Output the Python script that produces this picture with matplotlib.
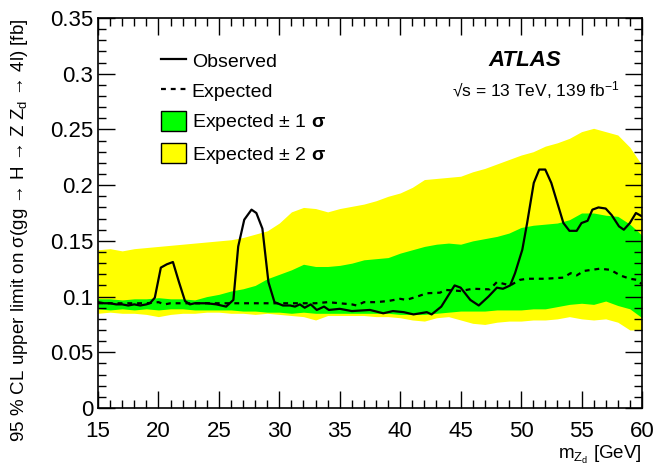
import matplotlib
matplotlib.use('Agg')
import matplotlib.pyplot as plt
from matplotlib.lines import Line2D
from matplotlib.patches import Patch
from matplotlib.ticker import MultipleLocator

plt.rcParams['font.family'] = ['Liberation Sans', 'DejaVu Sans']
plt.rcParams['mathtext.fontset'] = 'custom'
plt.rcParams['mathtext.rm'] = 'Liberation Sans'
plt.rcParams['mathtext.it'] = 'Liberation Sans:italic'
plt.rcParams['mathtext.bf'] = 'Liberation Sans:bold'

# Bandas de +-1 y +-2 sigma (rejilla de 1 GeV)
band_x = list(range(15, 61))
upper2 = [0.142, 0.143, 0.141, 0.143, 0.144, 0.145, 0.146, 0.147, 0.148, 0.149,
          0.150, 0.151, 0.153, 0.156, 0.159, 0.166, 0.176, 0.180, 0.179, 0.176,
          0.179, 0.181, 0.183, 0.186, 0.190, 0.193, 0.198, 0.205, 0.206, 0.207,
          0.208, 0.212, 0.215, 0.219, 0.223, 0.227, 0.230, 0.235, 0.238, 0.242,
          0.248, 0.251, 0.248, 0.245, 0.234, 0.218]
upper1 = [0.098, 0.098, 0.097, 0.098, 0.098, 0.099, 0.098, 0.098, 0.097, 0.100,
          0.102, 0.105, 0.107, 0.110, 0.116, 0.120, 0.124, 0.129, 0.127, 0.127,
          0.128, 0.130, 0.133, 0.134, 0.135, 0.139, 0.142, 0.145, 0.147, 0.148,
          0.147, 0.150, 0.152, 0.154, 0.157, 0.162, 0.164, 0.165, 0.166, 0.169,
          0.175, 0.175, 0.173, 0.172, 0.165, 0.155]
lower1 = [0.089, 0.088, 0.089, 0.088, 0.089, 0.088, 0.089, 0.089, 0.088, 0.088,
          0.088, 0.088, 0.087, 0.087, 0.086, 0.086, 0.085, 0.086, 0.085, 0.085,
          0.085, 0.085, 0.085, 0.085, 0.085, 0.084, 0.084, 0.084, 0.085, 0.086,
          0.087, 0.087, 0.087, 0.088, 0.088, 0.088, 0.089, 0.089, 0.091, 0.093,
          0.094, 0.093, 0.096, 0.092, 0.089, 0.081]
lower2 = [0.085, 0.086, 0.085, 0.085, 0.084, 0.082, 0.084, 0.085, 0.085, 0.086,
          0.086, 0.085, 0.085, 0.084, 0.085, 0.084, 0.083, 0.082, 0.079, 0.083,
          0.083, 0.083, 0.083, 0.082, 0.082, 0.081, 0.079, 0.078, 0.081, 0.082,
          0.079, 0.076, 0.075, 0.077, 0.078, 0.078, 0.079, 0.079, 0.080, 0.082,
          0.080, 0.079, 0.080, 0.077, 0.070, 0.070]

# Limite observado
obs_x = [15, 15.5, 16, 16.5, 17, 17.5, 18, 18.5, 19, 19.3,
         19.7, 20.2, 20.7, 21.2, 21.7, 22.2, 22.6, 23, 24, 24.8,
         25.6, 26.2, 26.6, 27.1, 27.7, 28.1, 28.6, 29.1, 29.6, 30.3,
         30.9, 31.3, 31.7, 32.1, 32.6, 33.1, 33.7, 34.1, 35, 36,
         37.5, 38.6, 39.4, 40.3, 41.1, 42.2, 42.6, 43.4, 44.5, 45,
         45.8, 46.5, 47.3, 48, 48.5, 49.1, 49.5, 50.1, 50.5, 51.05,
         51.5, 52, 52.5, 53.5, 54, 54.6, 55, 55.5, 55.9, 56.4,
         57, 57.5, 58.1, 58.5, 59, 59.5, 60]
obs_y = [0.095, 0.094, 0.094, 0.093, 0.093, 0.092, 0.093, 0.092, 0.093, 0.094,
         0.099, 0.126, 0.129, 0.131, 0.113, 0.096, 0.093, 0.094, 0.094, 0.093,
         0.091, 0.097, 0.145, 0.169, 0.178, 0.175, 0.161, 0.113, 0.095, 0.092,
         0.092, 0.091, 0.093, 0.090, 0.093, 0.088, 0.091, 0.088, 0.089, 0.087,
         0.088, 0.085, 0.087, 0.086, 0.084, 0.086, 0.084, 0.091, 0.110, 0.108,
         0.097, 0.092, 0.100, 0.108, 0.107, 0.110, 0.121, 0.142, 0.166, 0.202,
         0.214, 0.214, 0.202, 0.166, 0.159, 0.159, 0.166, 0.168, 0.178, 0.180,
         0.179, 0.173, 0.163, 0.160, 0.166, 0.175, 0.172]

# Limite esperado
exp_x = [15, 16, 17, 18, 19, 20, 20.5, 21, 22, 23,
         24, 25, 26, 27, 28, 29, 30, 31, 32, 33,
         34, 35, 36, 36.4, 37, 38, 39, 40, 40.5, 41.4,
         42.2, 43.3, 43.7, 45, 46, 47.4, 48, 49.1, 49.9, 50.5,
         52, 53.5, 54.1, 54.6, 55.2, 56.5, 57.4, 58.2, 59, 59.6,
         60]
exp_y = [0.094, 0.094, 0.094, 0.094, 0.094, 0.095, 0.093, 0.094, 0.094, 0.094,
         0.094, 0.094, 0.094, 0.094, 0.094, 0.094, 0.094, 0.094, 0.094, 0.094,
         0.095, 0.094, 0.093, 0.092, 0.095, 0.095, 0.096, 0.098, 0.097, 0.100,
         0.103, 0.1035, 0.106, 0.105, 0.107, 0.1065, 0.113, 0.110, 0.115, 0.116,
         0.116, 0.117, 0.121, 0.119, 0.123, 0.125, 0.124, 0.119, 0.116, 0.115,
         0.111]

fig = plt.figure(figsize=(6.55, 4.67), dpi=100)
ax = fig.add_axes([0.1496, 0.1263, 0.8305, 0.8352])

ax.fill_between(band_x, lower2, upper2, color='#ffff00', lw=0)
ax.fill_between(band_x, lower1, upper1, color='#00ff00', lw=0)
ax.plot(exp_x, exp_y, color='black', lw=1.6, ls=(0, (2.2, 2.2)))
ax.plot(obs_x, obs_y, color='black', lw=1.6)

ax.set_xlim(15, 60)
ax.set_ylim(0, 0.35)
ax.xaxis.set_major_locator(MultipleLocator(5))
ax.xaxis.set_minor_locator(MultipleLocator(1))
ax.yaxis.set_minor_locator(MultipleLocator(0.01))
ax.set_yticks([0, 0.05, 0.1, 0.15, 0.2, 0.25, 0.3, 0.35])
ax.set_yticklabels(['0', '0.05', '0.1', '0.15', '0.2', '0.25', '0.3', '0.35'])
ax.tick_params(which='both', direction='in', top=True, right=True, labelsize=16, width=1)
ax.tick_params(which='major', length=12)
ax.tick_params(which='minor', length=6)
ax.tick_params(axis='x', pad=9)
for s in ax.spines.values():
    s.set_linewidth(1.2)

ax.set_ylabel(r'95 % CL upper limit on σ(gg → H → Z Z$_{\rm d}$ → 4l) [fb]', fontsize=13.5)
ax.yaxis.set_label_coords(-0.125, 0.455)
ax.set_xlabel(r'm$_{\rm Z_{d}}$ [GeV]', fontsize=13.5, loc='right', labelpad=2)

handles = [Line2D([], [], color='black', lw=1.6),
           Line2D([], [], color='black', lw=1.6, ls=(0, (2.2, 2.2))),
           Patch(facecolor='#00ff00', edgecolor='black', lw=1),
           Patch(facecolor='#ffff00', edgecolor='black', lw=1)]
labels = ['Observed', 'Expected', r'Expected ± 1 $\mathbf{σ}$', r'Expected ± 2 $\mathbf{σ}$']
ax.legend(handles, labels, loc='upper left', bbox_to_anchor=(0.083, 0.962), frameon=False,
          fontsize=14, handlelength=1.3, handleheight=1.2, handletextpad=0.3, labelspacing=0.5)

ax.text(0.851, 0.89, 'ATLAS', transform=ax.transAxes, fontsize=16, fontweight='bold',
        fontstyle='italic', ha='right', va='center')
ax.text(0.958, 0.815, r'√s = 13 TeV, 139 fb$^{-1}$', transform=ax.transAxes, fontsize=12.5,
        ha='right', va='center')

plt.savefig('out.png', dpi=100)
